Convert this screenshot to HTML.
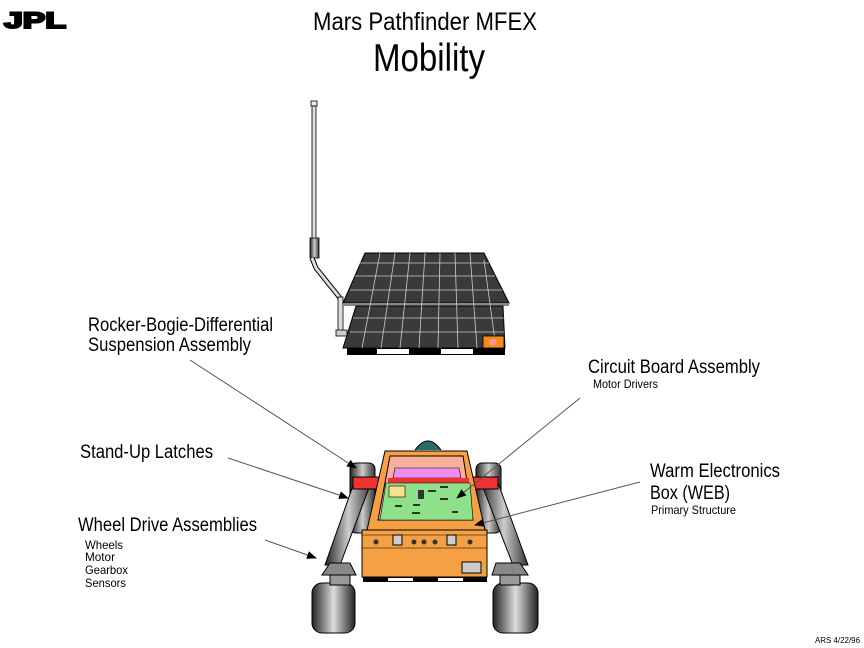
<!DOCTYPE html>
<html><head><style>body{margin:0;background:#fff}svg{display:block}</style></head><body>
<svg width="864" height="648" viewBox="0 0 864 648" xmlns="http://www.w3.org/2000/svg" font-family="Liberation Sans, sans-serif">
<defs>
<marker id="a" markerWidth="10" markerHeight="8" refX="9" refY="4" orient="auto" markerUnits="userSpaceOnUse"><path d="M0,0 L10,4 L0,8z" fill="#000"/></marker>
<linearGradient id="w" x1="0" x2="1"><stop offset="0" stop-color="#222"/><stop offset=".5" stop-color="#ddd"/><stop offset="1" stop-color="#222"/></linearGradient>
<linearGradient id="l" x1="0" x2="1"><stop offset="0" stop-color="#222"/><stop offset=".5" stop-color="#ccc"/><stop offset="1" stop-color="#333"/></linearGradient>
</defs>
<text x="4" y="28" font-size="22" font-weight="bold" stroke="#000" stroke-width="2" textLength="62" lengthAdjust="spacingAndGlyphs">JPL</text>
<text x="313" y="30" font-size="25" textLength="224" lengthAdjust="spacingAndGlyphs">Mars Pathfinder MFEX</text>
<text x="373" y="71" font-size="39" textLength="112" lengthAdjust="spacingAndGlyphs">Mobility</text>
<rect x="311" y="101" width="6" height="5" fill="#eee" stroke="#000" stroke-width=".8"/>
<rect x="312" y="106" width="4" height="134" fill="#ddd" stroke="#000" stroke-width=".8"/>
<rect x="310" y="238" width="9" height="20" fill="url(#l)" stroke="#000" stroke-width=".8"/>
<path d="M312,258 L316,268 L340,298" stroke="#000" stroke-width="5" fill="none"/>
<path d="M312,258 L316,268 L340,298" stroke="#ddd" stroke-width="3" fill="none"/>
<rect x="338" y="297" width="5" height="35" fill="#ddd" stroke="#000" stroke-width=".8"/>
<rect x="336" y="330" width="11" height="6" fill="#ccc" stroke="#000" stroke-width=".8"/>
<polygon points="365,253 484,253 509,303 343,303" fill="#3a3a3a" stroke="#000"/>
<rect x="343" y="303" width="166" height="3" fill="#888"/>
<polygon points="356,306 503,306 505,348 343,348" fill="#3a3a3a" stroke="#000"/>
<g stroke="#ccc" stroke-width=".8">
<line x1="360" y1="263" x2="489" y2="263"/><line x1="355" y1="276" x2="495" y2="276"/><line x1="350" y1="290" x2="502" y2="290"/>
<line x1="353" y1="318" x2="504" y2="318"/><line x1="350" y1="332" x2="504" y2="332"/>
<line x1="380" y1="253" x2="362" y2="348"/><line x1="395" y1="253" x2="381" y2="348"/><line x1="410" y1="253" x2="400" y2="348"/><line x1="425" y1="253" x2="419" y2="348"/><line x1="440" y1="253" x2="438" y2="348"/><line x1="455" y1="253" x2="458" y2="348"/><line x1="470" y1="253" x2="477" y2="348"/><line x1="484" y1="260" x2="496" y2="348"/>
</g>
<rect x="483" y="336" width="21" height="12" fill="#f28a1e" stroke="#000" stroke-width=".8"/>
<ellipse cx="493" cy="342" rx="4" ry="3" fill="#f99"/>
<rect x="347" y="348" width="158" height="7" fill="#000"/>
<rect x="377" y="349" width="32" height="5" fill="#fff"/><rect x="441" y="349" width="32" height="5" fill="#fff"/>
<rect x="350" y="463" width="25" height="70" rx="6" fill="url(#l)" stroke="#000"/>
<rect x="476" y="463" width="25" height="70" rx="6" fill="url(#l)" stroke="#000"/>
<polygon points="355,480 372,480 340,565 325,565" fill="url(#l)" stroke="#000"/>
<polygon points="480,480 497,480 528,565 513,565" fill="url(#l)" stroke="#000"/>
<rect x="353" y="477" width="30" height="12" fill="#e33" stroke="#000"/>
<rect x="470" y="477" width="28" height="12" fill="#e33" stroke="#000"/>
<polygon points="330,563 350,563 356,575 322,575" fill="#888" stroke="#000"/>
<polygon points="496,563 520,563 528,575 492,575" fill="#888" stroke="#000"/>
<rect x="312" y="583" width="43" height="50" rx="10" fill="url(#w)" stroke="#000"/>
<rect x="493" y="583" width="45" height="50" rx="10" fill="url(#w)" stroke="#000"/>
<rect x="330" y="575" width="20" height="10" fill="#999" stroke="#000"/>
<rect x="500" y="575" width="20" height="10" fill="#999" stroke="#000"/>
<path d="M415,450 Q428,432 441,450" fill="#2a6a6a" stroke="#000"/>
<polygon points="385,451 467,451 485,530 367,530" fill="#f5a042" stroke="#000"/>
<polygon points="390,456 463,456 473,520 378,520" fill="#f9b09a" stroke="#000"/>
<polygon points="395,468 459,468 461,478 393,478" fill="#f08ef0" stroke="#000" stroke-width=".6"/>
<rect x="388" y="478" width="81" height="5" fill="#e33"/>
<polygon points="386,483 470,483 473,520 380,520" fill="#8ee08a" stroke="#000" stroke-width=".6"/>
<rect x="389" y="486" width="16" height="11" fill="#f6e28a" stroke="#000" stroke-width=".6"/>
<rect x="418" y="490" width="6" height="9" fill="#333"/>
<g stroke="#000" stroke-width="1.5"><line x1="428" y1="491" x2="436" y2="491"/><line x1="440" y1="487" x2="448" y2="487"/><line x1="440" y1="499" x2="448" y2="499"/><line x1="395" y1="506" x2="402" y2="506"/><line x1="413" y1="505" x2="420" y2="505"/><line x1="412" y1="513" x2="420" y2="513"/><line x1="452" y1="512" x2="458" y2="512"/></g>
<rect x="362" y="530" width="125" height="47" fill="#f5a042" stroke="#000"/>
<line x1="362" y1="535" x2="487" y2="535" stroke="#000" stroke-width=".6"/>
<line x1="362" y1="548" x2="487" y2="548" stroke="#000" stroke-width=".6"/>
<g fill="#333"><circle cx="376" cy="542" r="2.5"/><circle cx="414" cy="542" r="2.5"/><circle cx="424" cy="542" r="2.5"/><circle cx="435" cy="542" r="2.5"/><circle cx="470" cy="542" r="2.5"/></g>
<rect x="393" y="535" width="9" height="10" fill="#ccc" stroke="#000"/>
<rect x="447" y="535" width="9" height="10" fill="#ccc" stroke="#000"/>
<rect x="462" y="562" width="19" height="11" fill="#ccc" stroke="#000"/>
<rect x="363" y="577" width="124" height="5" fill="#000"/>
<rect x="388" y="578" width="25" height="3" fill="#fff"/><rect x="438" y="578" width="25" height="3" fill="#fff"/>
<g stroke="#555" stroke-width="1" marker-end="url(#a)">
<line x1="190" y1="360" x2="356" y2="468"/>
<line x1="228" y1="458" x2="348" y2="498"/>
<line x1="265" y1="540" x2="316" y2="558"/>
<line x1="580" y1="398" x2="457" y2="498"/>
<line x1="640" y1="482" x2="475" y2="525"/>
</g>
<g font-size="19">
<text x="88" y="331" textLength="185" lengthAdjust="spacingAndGlyphs">Rocker-Bogie-Differential</text>
<text x="88" y="351" textLength="163" lengthAdjust="spacingAndGlyphs">Suspension Assembly</text>
<text x="80" y="458" textLength="133" lengthAdjust="spacingAndGlyphs">Stand-Up Latches</text>
<text x="78" y="531" textLength="179" lengthAdjust="spacingAndGlyphs">Wheel Drive Assemblies</text>
<text x="588" y="373" textLength="172" lengthAdjust="spacingAndGlyphs">Circuit Board Assembly</text>
<text x="650" y="477" textLength="130" lengthAdjust="spacingAndGlyphs">Warm Electronics</text>
<text x="650" y="499" textLength="80" lengthAdjust="spacingAndGlyphs">Box (WEB)</text>
</g>
<g font-size="12">
<text x="85" y="549" textLength="38" lengthAdjust="spacingAndGlyphs">Wheels</text>
<text x="85" y="561" textLength="30" lengthAdjust="spacingAndGlyphs">Motor</text>
<text x="85" y="574" textLength="43" lengthAdjust="spacingAndGlyphs">Gearbox</text>
<text x="85" y="587" textLength="41" lengthAdjust="spacingAndGlyphs">Sensors</text>
<text x="593" y="388" textLength="65" lengthAdjust="spacingAndGlyphs">Motor Drivers</text>
<text x="651" y="514" textLength="85" lengthAdjust="spacingAndGlyphs">Primary Structure</text>
</g>
<text x="815" y="643" font-size="8" textLength="45" lengthAdjust="spacingAndGlyphs">ARS 4/22/96</text>
</svg>
</body></html>
